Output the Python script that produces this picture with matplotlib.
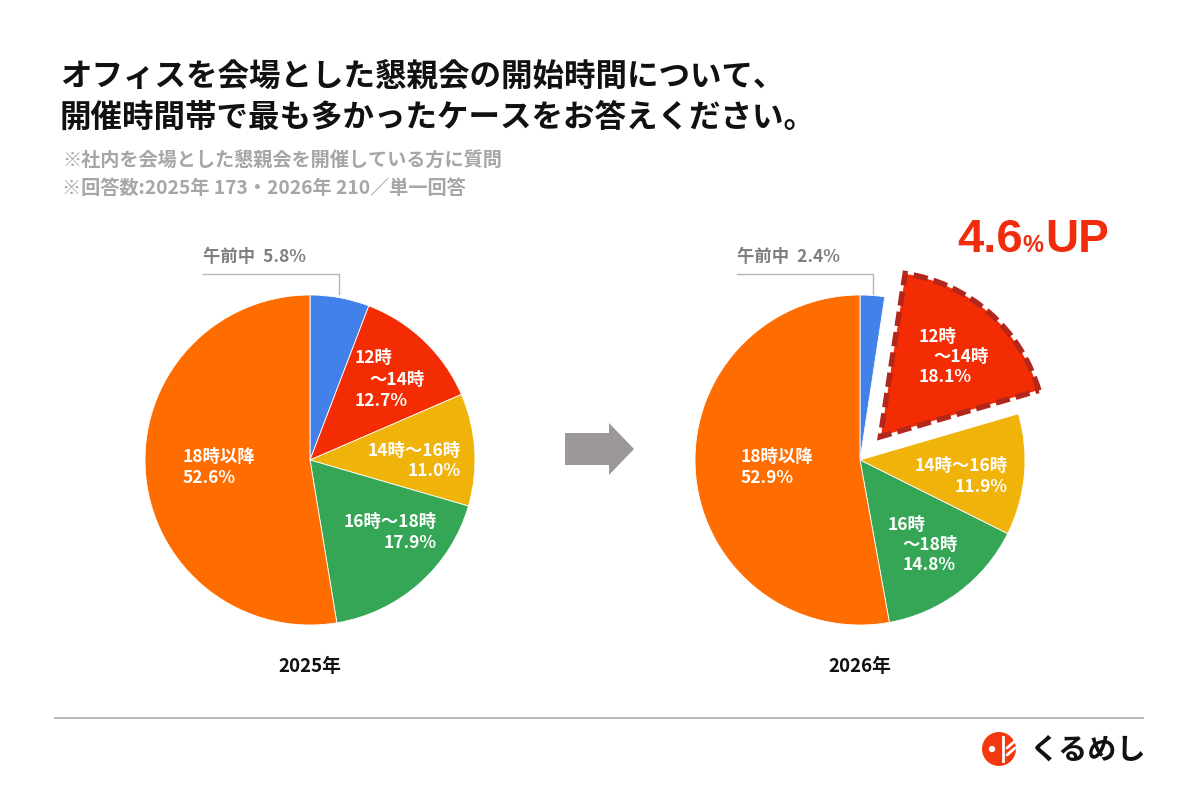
import numpy as np
import matplotlib
matplotlib.use("Agg")
import matplotlib.pyplot as plt
from matplotlib.patches import Polygon, Circle, Wedge

plt.rcParams['font.family'] = ['Noto Sans CJK JP', 'DejaVu Sans']

# data
categories = ["午前中", "12時～14時", "14時～16時", "16時～18時", "18時以降"]
share_2025 = [5.8, 12.7, 11.0, 17.9, 52.6]
share_2026 = [2.4, 18.1, 11.9, 14.8, 52.9]
years = ["2025年", "2026年"]
colors = ["#4381ea", "#f42c04", "#f0b30a", "#35a656", "#ff6c00"]

fig = plt.figure(figsize=(12, 8), dpi=100)
ax = fig.add_axes([0, 0, 1, 1])
H = 800


def Y(y):
    return H - y


# pies (explode is in data units here, radius 165)
R = 165
c1 = (310, Y(460))
c2 = (860, Y(460))
w1, _ = ax.pie(share_2025, colors=colors, startangle=90, counterclock=False,
               radius=R, center=c1, frame=True,
               wedgeprops=dict(linewidth=0.6, edgecolor="white"))
w2, _ = ax.pie(share_2026, colors=colors, startangle=90, counterclock=False,
               radius=R, center=c2, frame=True, explode=[0, 31, 0, 0, 0],
               wedgeprops=dict(linewidth=0.6, edgecolor="white"))
# highlighted slice
hl = Wedge(w2[1].center, w2[1].r, w2[1].theta1, w2[1].theta2,
           facecolor="none", edgecolor="#b3261c", linewidth=4,
           linestyle=(0, (2.6, 1.1)), zorder=5)
ax.add_patch(hl)

ax.set_xlim(0, 1200)
ax.set_ylim(0, 800)
ax.set_aspect("equal")
ax.axis("off")

# title
tk = dict(fontsize=22.7, fontweight="bold", color="#111111", va="center", ha="left")
ax.text(60, Y(78), "オフィスを会場とした懇親会の開始時間について、", **tk)
ax.text(60, Y(118), "開催時間帯で最も多かったケースをお答えください。", **tk)
sk = dict(fontsize=13.8, fontweight="bold", color="#a6a6a6", va="center", ha="left")
ax.text(62, Y(160), "※社内を会場とした懇親会を開催している方に質問", **sk)
ax.text(62, Y(188), "※回答数:2025年 173・2026年 210／単一回答", **sk)

# labels inside pies
lk = dict(fontsize=12.5, fontweight="bold", color="white", va="center")
# 2025
ax.text(355, Y(358), "12時", ha="left", **lk)
ax.text(369, Y(380), "～14時", ha="left", **lk)
ax.text(355, Y(401), f"{share_2025[1]}%", ha="left", **lk)
ax.text(461, Y(451), "14時～16時", ha="right", **lk)
ax.text(461, Y(471), f"{share_2025[2]}%", ha="right", **lk)
ax.text(437, Y(522), "16時～18時", ha="right", **lk)
ax.text(437, Y(543), f"{share_2025[3]}%", ha="right", **lk)
ax.text(183, Y(457), "18時以降", ha="left", **lk)
ax.text(183, Y(478), f"{share_2025[4]}%", ha="left", **lk)
# 2026
ax.text(919, Y(337), "12時", ha="left", **lk)
ax.text(933, Y(357), "～14時", ha="left", **lk)
ax.text(919, Y(377), f"{share_2026[1]}%", ha="left", **lk)
ax.text(1008, Y(466), "14時～16時", ha="right", **lk)
ax.text(1008, Y(487), f"{share_2026[2]}%", ha="right", **lk)
ax.text(888, Y(525), "16時", ha="left", **lk)
ax.text(902, Y(545), "～18時", ha="left", **lk)
ax.text(903, Y(565), f"{share_2026[3]}%", ha="left", **lk)
ax.text(741, Y(457), "18時以降", ha="left", **lk)
ax.text(741, Y(478), f"{share_2026[4]}%", ha="left", **lk)

# outside labels with leader lines
ok = dict(fontsize=12.5, fontweight="bold", color="#808080", va="center", ha="left")
ax.text(203, Y(257), f"{categories[0]}  {share_2025[0]}%", **ok)
ax.plot([203, 339, 339], [Y(274), Y(274), Y(294)], color="#b5b5b5", lw=1)
ax.text(737, Y(257), f"{categories[0]}  {share_2026[0]}%", **ok)
ax.plot([737, 873, 873], [Y(274), Y(274), Y(294)], color="#b5b5b5", lw=1)

# year labels
ax.text(310, Y(667), years[0], fontsize=13.5, fontweight="bold", color="#111111",
        ha="center", va="center")
ax.text(860, Y(667), years[1], fontsize=13.5, fontweight="bold", color="#111111",
        ha="center", va="center")

# arrow
arrow = [(565, 433), (609, 433), (609, 423), (634, 449), (609, 475),
         (609, 465), (565, 465)]
ax.add_patch(Polygon([(x, Y(y)) for x, y in arrow], closed=True,
                     facecolor="#9b979a", edgecolor="none"))

# 4.6%UP
uk = dict(color="#f02c0c", fontweight="bold", va="baseline", ha="left",
          family=["Liberation Sans", "DejaVu Sans"])
ax.text(957, Y(252), "4.6", fontsize=34, **uk)
ax.text(1022, Y(252), "%", fontsize=17, **uk)
ax.text(1045, Y(252), "UP", fontsize=33, **uk)

# bottom rule
ax.plot([55, 1143], [Y(718), Y(718)], color="#aaaaaa", lw=1.2)

# logo
ax.add_patch(Circle((999, Y(749)), 17, facecolor="#f2380f", edgecolor="none"))
ax.add_patch(Circle((992, Y(749)), 3.2, facecolor="white", edgecolor="none"))
ax.plot([1003, 1003], [Y(737), Y(761)], color="white", lw=2)
ax.plot([1007, 1015], [Y(748), Y(741)], color="white", lw=2, solid_capstyle="round")
ax.plot([1007, 1015], [Y(755), Y(748)], color="white", lw=2, solid_capstyle="round")
ax.text(1030, Y(750), "くるめし", fontsize=21, fontweight="bold", color="#111111",
        ha="left", va="center")

fig.savefig("out.png", dpi=100)
